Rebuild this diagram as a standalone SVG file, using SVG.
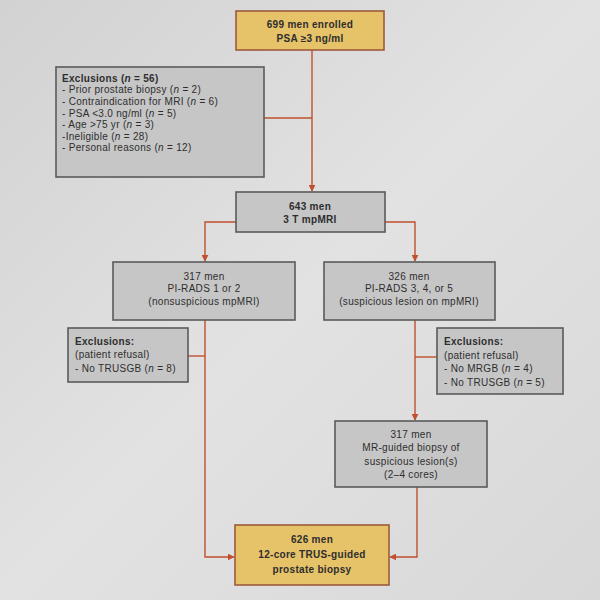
<svg xmlns="http://www.w3.org/2000/svg" width="600" height="600" viewBox="0 0 600 600">
<defs>
<linearGradient id="bg" x1="0" y1="0" x2="1" y2="1">
<stop offset="0" stop-color="#d2d2d2"/>
<stop offset="0.5" stop-color="#e2e2e2"/>
<stop offset="1" stop-color="#d8d8d8"/>
</linearGradient>
<marker id="ah" viewBox="0 0 10 10" refX="9" refY="5" markerWidth="7" markerHeight="7" markerUnits="userSpaceOnUse" orient="auto">
<path d="M0,0 L10,5 L0,10 z" fill="#c0502e"/>
</marker>
<style>
.gold{fill:#e6c269;stroke:#9c5a3c;stroke-width:1.6}
.gray{fill:#c6c6c6;stroke:#5a5a5a;stroke-width:1.6}
text{font-family:"Liberation Sans",Arial,sans-serif;font-size:10px;letter-spacing:0.3px;fill:#2e2e2e}
.c{text-anchor:middle}
.b{font-weight:bold}
.con{fill:none;stroke:#c0502e;stroke-width:1.4}
</style>
</defs>
<rect width="600" height="600" fill="url(#bg)"/>
<g id="connectors">
<path class="con" d="M312,50 V191" marker-end="url(#ah)"/>
<path class="con" d="M264,118 H312"/>
<path class="con" d="M236,222 H205 V261" marker-end="url(#ah)"/>
<path class="con" d="M385,222 H415 V261" marker-end="url(#ah)"/>
<path class="con" d="M205,320 V557 H234" marker-end="url(#ah)"/>
<path class="con" d="M188,356 H205"/>
<path class="con" d="M415,320 V420" marker-end="url(#ah)"/>
<path class="con" d="M437,357 H415"/>
<path class="con" d="M417,487 V557 H390" marker-end="url(#ah)"/>
</g>
<g id="enrolled">
<rect class="gold" x="236" y="11" width="148" height="39"/>
<text class="c b" x="310" y="28">699 men enrolled</text>
<text class="c b" x="310" y="42">PSA ≥3 ng/ml</text>
</g>
<g id="exclusions1">
<rect class="gray" x="56" y="67" width="208" height="110"/>
<text x="62" y="82" class="b">Exclusions (<tspan font-style="italic">n</tspan> = 56)</text>
<text x="62" y="93">- Prior prostate biopsy (<tspan font-style="italic">n</tspan> = 2)</text>
<text x="62" y="105">- Contraindication for MRI (<tspan font-style="italic">n</tspan> = 6)</text>
<text x="62" y="117">- PSA &lt;3.0 ng/ml (<tspan font-style="italic">n</tspan> = 5)</text>
<text x="62" y="128">- Age &gt;75 yr (<tspan font-style="italic">n</tspan> = 3)</text>
<text x="62" y="140">-Ineligible (<tspan font-style="italic">n</tspan> = 28)</text>
<text x="62" y="151">- Personal reasons (<tspan font-style="italic">n</tspan> = 12)</text>
</g>
<g id="mpmri">
<rect class="gray" x="236" y="192" width="149" height="40"/>
<text class="c b" x="310" y="210">643 men</text>
<text class="c b" x="310" y="223">3 T mpMRI</text>
</g>
<g id="pirads12">
<rect class="gray" x="113" y="262" width="182" height="58"/>
<text class="c" x="204" y="280">317 men</text>
<text class="c" x="204" y="292">PI-RADS 1 or 2</text>
<text class="c" x="204" y="305">(nonsuspicious mpMRI)</text>
</g>
<g id="pirads345">
<rect class="gray" x="324" y="262" width="171" height="58"/>
<text class="c" x="409" y="280">326 men</text>
<text class="c" x="409" y="292">PI-RADS 3, 4, or 5</text>
<text class="c" x="409" y="305">(suspicious lesion on mpMRI)</text>
</g>
<g id="exclusions2">
<rect class="gray" x="68" y="328" width="120" height="54"/>
<text x="75" y="345" class="b">Exclusions:</text>
<text x="75" y="358">(patient refusal)</text>
<text x="75" y="372">- No TRUSGB (<tspan font-style="italic">n</tspan> = 8)</text>
</g>
<g id="exclusions3">
<rect class="gray" x="437" y="328" width="126" height="66"/>
<text x="444" y="345" class="b">Exclusions:</text>
<text x="444" y="359">(patient refusal)</text>
<text x="444" y="372">- No MRGB (<tspan font-style="italic">n</tspan> = 4)</text>
<text x="444" y="386">- No TRUSGB (<tspan font-style="italic">n</tspan> = 5)</text>
</g>
<g id="mrgb">
<rect class="gray" x="335" y="421" width="152" height="66"/>
<text class="c" x="411" y="438">317 men</text>
<text class="c" x="411" y="451">MR-guided biopsy of</text>
<text class="c" x="411" y="465">suspicious lesion(s)</text>
<text class="c" x="411" y="478">(2–4 cores)</text>
</g>
<g id="trusgb">
<rect class="gold" x="235" y="525" width="154" height="60"/>
<text class="c b" x="312" y="543">626 men</text>
<text class="c b" x="312" y="558">12-core TRUS-guided</text>
<text class="c b" x="312" y="573">prostate biopsy</text>
</g>
</svg>
